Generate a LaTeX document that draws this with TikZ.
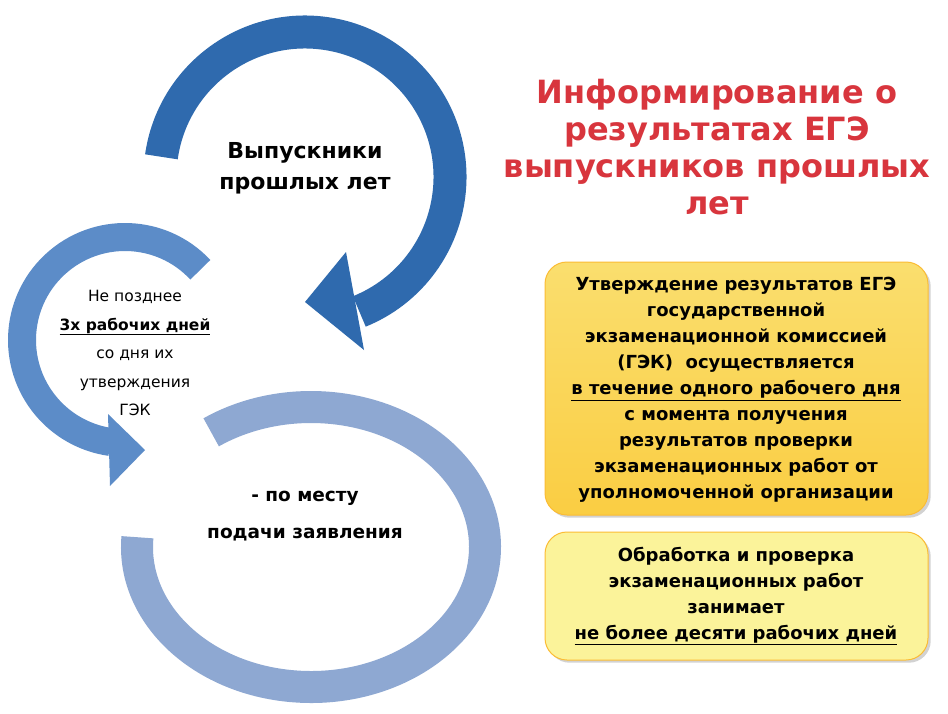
\documentclass[tikz,border=0pt]{standalone}
\usepackage{fontspec}
\setmainfont{DejaVu Sans}
\usetikzlibrary{shadows}
\definecolor{bdark}{HTML}{2F6AAE}
\definecolor{bmid}{HTML}{5C8CC8}
\definecolor{blight}{HTML}{8EA8D2}
\definecolor{ttl}{HTML}{D8353D}
\definecolor{yel1}{HTML}{F9D64A}
\definecolor{yel2}{HTML}{FBF39A}
\tikzset{
  boxA/.style={rounded corners=22pt, draw=yel1!70!orange, line width=1pt, drop shadow={opacity=0.35}},
  ttltxt/.style={font=\fontsize{32}{37}\selectfont\bfseries, text=ttl, align=center},
  boxtxt/.style={font=\fontsize{18}{26}\selectfont\bfseries, align=center},
}
\begin{document}
\begin{tikzpicture}[x=1pt,y=-1pt]
\useasboundingbox (0,0) rectangle (948,713);
\fill[white] (0,0) rectangle (948,713);
% bottom ring (ellipse)
\draw[blight, line width=32pt] (311,547) ++(-176:174 and 140) arc[start angle=-176, end angle=-485, x radius=174, y radius=140];
% middle arrow
\draw[bmid, line width=28pt] (125,340) ++(-43:103) arc[start angle=-43, end angle=-262, radius=103];
\coordinate (mtip) at (145,450);
\fill[bmid] (108,414) -- (mtip) -- (110,486) -- cycle;
% top arrow
\draw[bdark, line width=33pt] (305,177) ++(-172:145) arc[start angle=-172, end angle=68, radius=145];
\coordinate (ttip) at (305,302);
\fill[bdark] (346,252) -- (ttip) -- (364,350) -- cycle;
% texts in circles
\node[font=\fontsize{22}{31}\selectfont\bfseries, align=center] (t1) at (305,168) {Выпускники\\прошлых лет};
\node[font=\fontsize{15.5}{28.5}\selectfont, align=center] (t2) at (135,353) {Не позднее\\\textbf{\underline{3х рабочих дней}}\\со дня их\\утверждения\\ГЭК};
\node[font=\fontsize{18.5}{37}\selectfont\bfseries, align=center] (t3) at (305,516) {- по месту\\подачи заявления};
% title
\node[ttltxt] (title) at (717,147) {Информирование о\\результатах ЕГЭ\\выпускников прошлых\\лет};
% boxes
\draw[boxA, top color=yel1!80!white, bottom color=yel1!90!orange] (545,262) rectangle (928,515);
\node[boxtxt] (b1) at (736,390) {Утверждение результатов ЕГЭ\\государственной\\экзаменационной комиссией\\(ГЭК)\ \ осуществляется\\\underline{в течение одного рабочего дня}\\с момента получения\\результатов проверки\\экзаменационных работ от\\уполномоченной организации};
\draw[boxA, fill=yel2] (545,532) rectangle (928,660);
\node[boxtxt] (b2) at (736,596) {Обработка и проверка\\экзаменационных работ\\занимает\\\underline{не более десяти рабочих дней}};
\end{tikzpicture}
\end{document}
